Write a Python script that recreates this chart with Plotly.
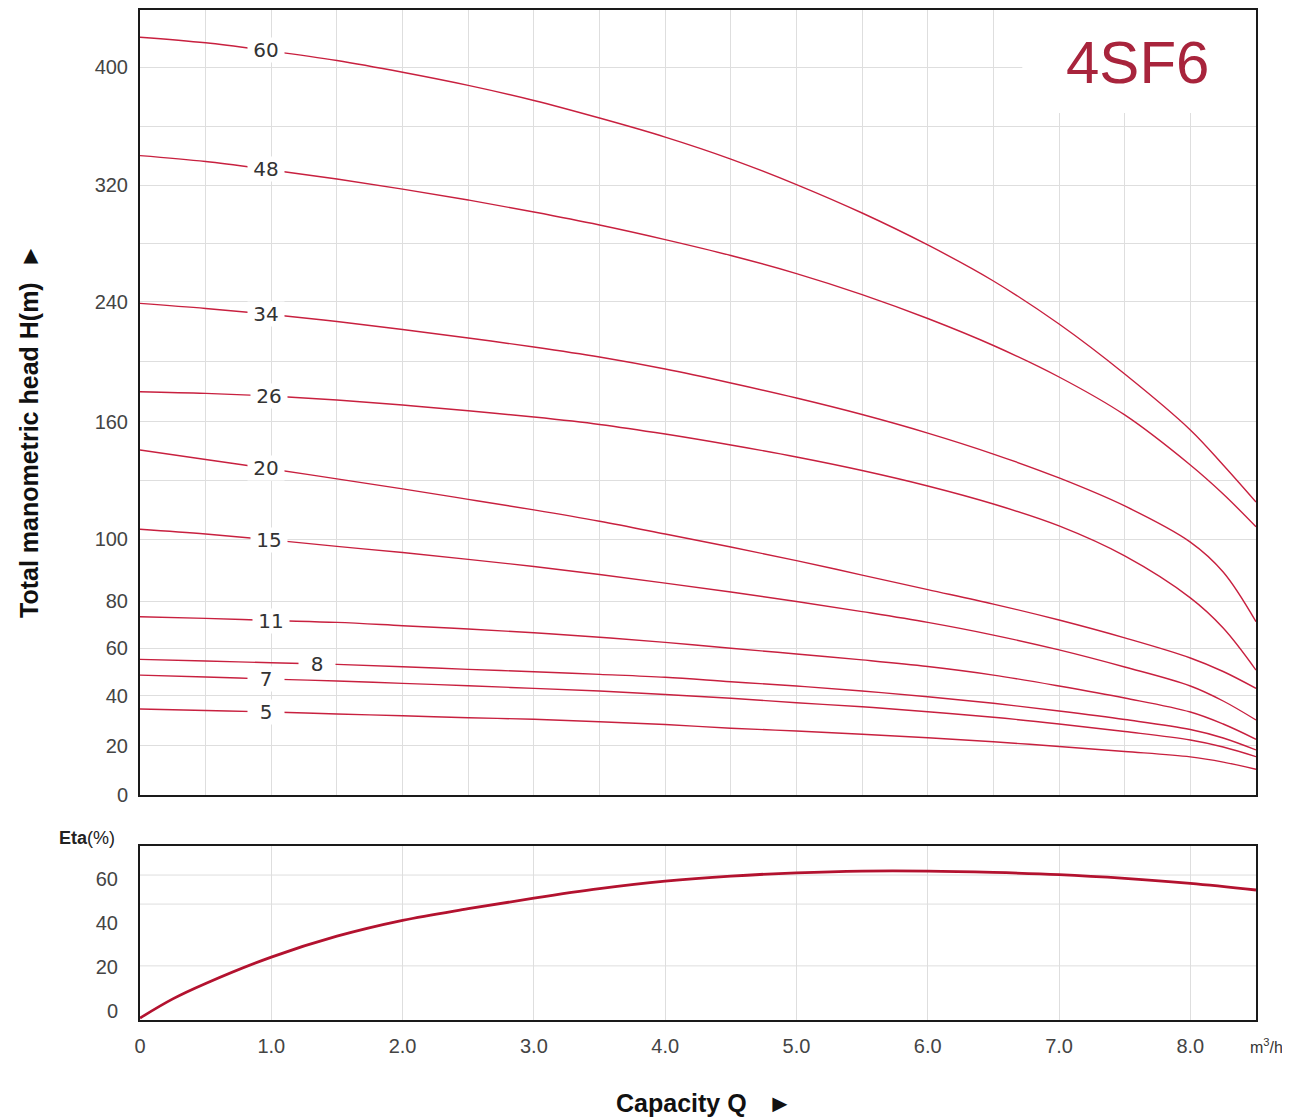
import numpy as np
import plotly.graph_objects as go

# ---------------- data ----------------
Q = [0, 0.5, 1.0, 1.5, 2.0, 2.5, 3.0, 3.5, 4.0, 4.5, 5.0, 5.5, 6.0, 6.5, 7.0, 7.5, 8.0, 8.25, 8.5]

H_60 = [420.2, 416.4, 410.8, 404.4, 396.4, 387.5, 377.3, 365.4, 352.5, 337.6, 320.3, 300.8, 278.9, 254.2, 225.1, 191.8, 155.8, 137.9, 119.0]
H_48 = [339.9, 335.9, 330.2, 324.1, 317.2, 309.7, 301.5, 292.6, 282.6, 271.7, 259.3, 244.9, 228.8, 210.8, 189.8, 164.5, 137.9, 123.1, 106.4]
H_34 = [238.9, 235.5, 231.5, 226.8, 221.5, 215.8, 209.8, 203.1, 195.1, 185.8, 175.8, 164.8, 154.2, 143.5, 131.3, 117.0, 99.1, 89.4, 71.2]
H_26 = [180.0, 178.9, 177.1, 174.5, 171.1, 167.3, 163.1, 158.6, 153.7, 148.1, 142.0, 135.1, 127.2, 118.0, 106.8, 94.6, 81.0, 68.5, 50.7]
H_20 = [145.6, 140.7, 135.9, 130.8, 125.7, 120.4, 115.0, 109.2, 102.7, 97.5, 93.1, 88.4, 83.7, 78.7, 71.9, 64.3, 55.8, 50.1, 43.0]
H_15 = [105.1, 102.7, 99.8, 97.7, 95.7, 93.5, 91.2, 88.6, 85.8, 82.9, 79.8, 75.5, 70.9, 65.5, 59.2, 52.0, 44.0, 37.8, 30.2]
H_11 = [73.3, 72.6, 71.7, 70.9, 69.5, 68.1, 66.5, 64.6, 62.4, 59.9, 57.5, 55.0, 52.2, 48.6, 44.0, 39.0, 33.4, 28.6, 22.5]
H_8 = [55.2, 54.5, 53.8, 53.1, 52.1, 51.0, 50.0, 48.9, 47.7, 45.8, 44.0, 41.9, 39.5, 36.9, 33.8, 30.4, 26.4, 23.0, 18.2]
H_7 = [48.6, 47.8, 46.9, 46.1, 45.1, 44.1, 43.0, 41.9, 40.4, 38.9, 37.1, 35.5, 33.5, 31.3, 28.6, 25.6, 22.2, 19.4, 15.5]
H_5 = [34.6, 34.0, 33.4, 32.6, 31.9, 31.1, 30.5, 29.5, 28.4, 26.9, 25.8, 24.5, 23.1, 21.5, 19.6, 17.6, 15.4, 13.3, 10.4]

STAGES = ["60", "48", "34", "26", "20", "15", "11", "8", "7", "5"]
HEADS = [H_60, H_48, H_34, H_26, H_20, H_15, H_11, H_8, H_7, H_5]
LABEL_Q = [0.96, 0.96, 0.96, 0.98, 0.96, 0.98, 1.0, 1.35, 0.96, 0.96]

Q_ETA = [0, 0.25, 0.5, 1.0, 1.5, 2.0, 2.5, 3.0, 3.5, 4.0, 4.5, 5.0, 5.5, 6.0, 6.5, 7.0, 7.5, 8.0, 8.5]
ETA = [-3.2, 5.5, 12.5, 24.5, 34.0, 41.2, 46.5, 51.3, 55.6, 59.0, 61.3, 62.8, 63.6, 63.6, 63.0, 62.0, 60.3, 58.0, 55.0]

H_TICKS = [0, 20, 40, 60, 80, 100, 160, 240, 320, 400]
H_GRID_EXTRA = [130, 200, 280, 360]
ETA_TICKS = [0, 20, 40, 60]
ETA_GRID = [20.5, 48.6, 61.8]
Q_TICKS = [0, 1, 2, 3, 4, 5, 6, 7, 8]
Q_TICKTEXT = ["0", "1.0", "2.0", "3.0", "4.0", "5.0", "6.0", "7.0", "8.0"]

# piecewise head scale of the original chart (value -> axis position)
SCALE_H = [0, 20, 40, 60, 80, 100, 160, 240, 320, 400, 440]
SCALE_POS = [0, 49.5, 99.5, 147, 194, 255.7, 373.3, 493.3, 610, 728, 787]


def hpos(h):
    return np.interp(h, SCALE_H, SCALE_POS)


# ---------------- layout helpers ----------------
OFF = 8                    # default page margin of the html body
FW, FH = 1290 - OFF, 1119 - OFF


def px(x):
    return (x - OFF) / FW


def py(y):
    return 1 - (y - OFF) / FH


LINE_RED = "#c8203f"
ETA_RED = "#b3122f"
GRID = "#dedede"
FRAME = "#1a1a1a"
SANS = "Liberation Sans, Arial, sans-serif"
TICKFONT = dict(family=SANS, size=20, color="#444")

X_DOM = [px(140), px(1256)]
Y1_DOM = [py(795), py(10)]
Y2_DOM = [py(1020), py(846)]

fig = go.Figure()

for name, hv in zip(STAGES, HEADS):
    fig.add_trace(go.Scatter(
        x=Q, y=hpos(hv), mode="lines", name=name,
        line=dict(color=LINE_RED, width=1.4, shape="spline", smoothing=1.0),
        xaxis="x", yaxis="y", showlegend=False, hoverinfo="skip"))

fig.add_trace(go.Scatter(
    x=Q_ETA, y=ETA, mode="lines", name="Eta",
    line=dict(color=ETA_RED, width=2.8, shape="spline", smoothing=1.0),
    xaxis="x2", yaxis="y2", showlegend=False, hoverinfo="skip"))

annotations = []
for name, hv, lq in zip(STAGES, HEADS, LABEL_Q):
    annotations.append(dict(
        x=lq, y=float(hpos(np.interp(lq, Q, hv))), xref="x", yref="y",
        text=name, showarrow=False, bgcolor="white", width=32, height=20,
        borderpad=2, font=dict(family="DejaVu Sans, sans-serif", size=20, color="#333")))

annotations += [
    dict(x=px(1137), y=py(62), xref="paper", yref="paper", text="4SF6",
         showarrow=False, xanchor="center", yanchor="middle",
         font=dict(family=SANS, size=60, color="#a8243c")),
    dict(x=px(29), y=py(431), xref="paper", yref="paper",
         text="<b>Total manometric head H(m)</b>\u00a0\u00a0<b>►</b>", textangle=-90,
         showarrow=False, xanchor="center", yanchor="middle",
         font=dict(family=SANS, size=25, color="#111")),
    dict(x=px(614), y=py(1103), xref="paper", yref="paper",
         text="<b>Capacity Q</b>\u00a0\u00a0\u00a0<b>►</b>",
         showarrow=False, xanchor="left", yanchor="middle",
         font=dict(family=SANS, size=25, color="#111")),
    dict(x=px(57), y=py(838), xref="paper", yref="paper",
         text="<b>Eta</b>(%)", showarrow=False, xanchor="left", yanchor="middle",
         font=dict(family=SANS, size=18, color="#222")),
    dict(x=px(1266), y=py(1046), xref="paper", yref="paper",
         text="m<sup>3</sup>/h", showarrow=False, xanchor="center", yanchor="middle",
         font=dict(family=SANS, size=16, color="#333")),
]

shapes = [
    # white box behind the model name
    dict(type="rect", xref="x", yref="y", x0=6.72, x1=8.5, y0=795 - 113, y1=785,
         fillcolor="white", line=dict(width=0), layer="between"),
]
for g in ETA_GRID:
    shapes.append(dict(type="line", xref="x2 domain", yref="y2", x0=0, x1=1, y0=g, y1=g,
                       line=dict(color=GRID, width=1), layer="below"))

axis_common = dict(showline=True, linecolor=FRAME, linewidth=2, mirror=True,
                   gridcolor=GRID, gridwidth=1, zeroline=False, automargin=False,
                   tickfont=TICKFONT, ticks="")

fig.update_layout(
    width=FW, height=FH, margin=dict(l=0, r=0, t=0, b=0),
    paper_bgcolor="white", plot_bgcolor="white",
    xaxis=dict(domain=X_DOM, anchor="y", range=[0, 8.5], tickmode="linear", tick0=0,
               dtick=0.5, showticklabels=False, showgrid=True, **axis_common),
    yaxis=dict(domain=Y1_DOM, anchor="x", range=[0, 785], tickmode="array",
               tickvals=list(hpos(H_TICKS)), ticktext=[str(t) for t in H_TICKS],
               showgrid=True, ticklabelstandoff=6,
               minor=dict(tickmode="array", tickvals=list(hpos(H_GRID_EXTRA)),
                          showgrid=True, gridcolor=GRID, gridwidth=1, ticks=""),
               **axis_common),
    xaxis2=dict(domain=X_DOM, anchor="y2", range=[0, 8.5], tickmode="array",
                tickvals=Q_TICKS, ticktext=Q_TICKTEXT, showgrid=True,
                ticklabelstandoff=7, **axis_common),
    yaxis2=dict(domain=Y2_DOM, anchor="x2", range=[-4.1, 75], tickmode="array",
                tickvals=ETA_TICKS, ticktext=[str(t) for t in ETA_TICKS], showgrid=False,
                ticklabelstandoff=16, **axis_common),
    annotations=annotations, shapes=shapes,
)

fig.write_html("out.html")
